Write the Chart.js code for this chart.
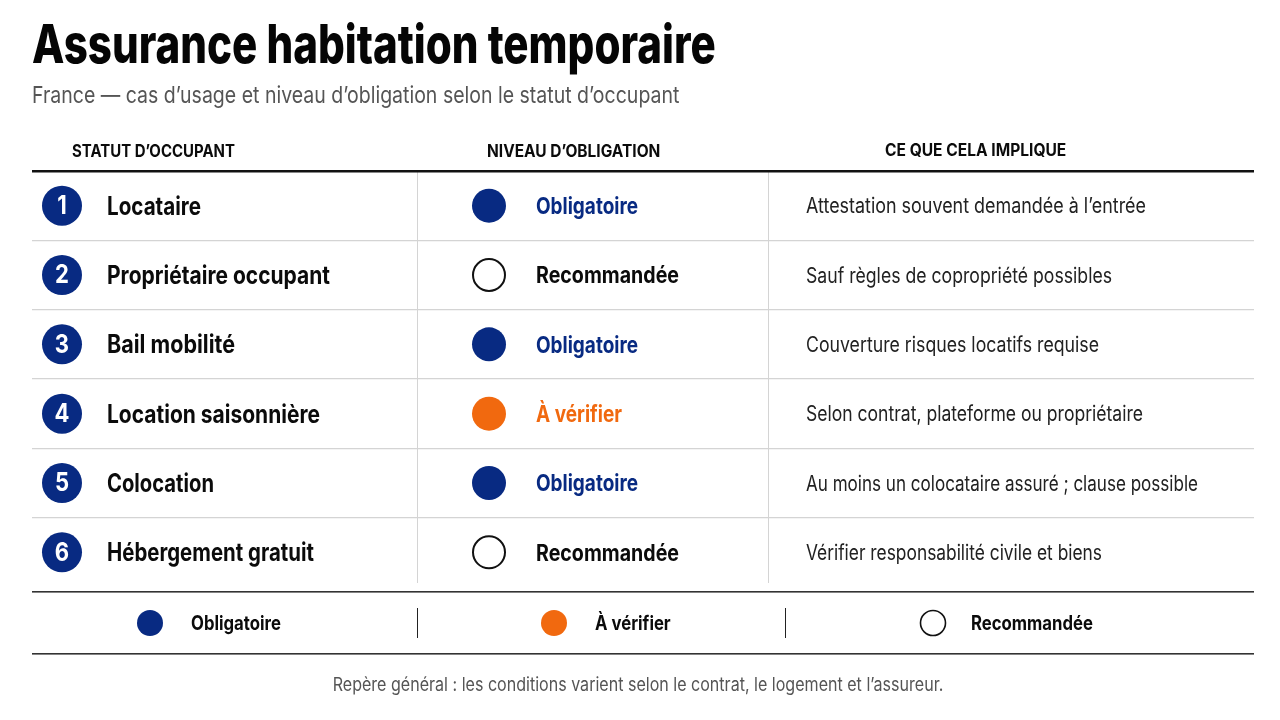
<!DOCTYPE html>
<html lang="fr"><head><meta charset="utf-8">
<style>html,body{margin:0;background:#fff}canvas{display:block}</style>
<script src="https://cdn.jsdelivr.net/npm/chart.js@4"></script></head>
<body><canvas id="c" width="1280" height="720"></canvas>
<script>
const occupants = ["Locataire","Propriétaire occupant","Bail mobilité","Location saisonnière","Colocation","Hébergement gratuit"];
const obligations = ["Obligatoire","Recommandée","Obligatoire","À vérifier","Obligatoire","Recommandée"];
const implications = ["Attestation souvent demandée à l’entrée","Sauf règles de copropriété possibles","Couverture risques locatifs requise","Selon contrat, plateforme ou propriétaire","Au moins un colocataire assuré ; clause possible","Vérifier responsabilité civile et biens"];
const rowNumbers = ["1","2","3","4","5","6"];
const columnHeaders = ["STATUT D’OCCUPANT","NIVEAU D’OBLIGATION","CE QUE CELA IMPLIQUE"];
const legendLevels = ["Obligatoire","À vérifier","Recommandée"];
const titleText = "Assurance habitation temporaire";
const subtitleText = "France — cas d’usage et niveau d’obligation selon le statut d’occupant";
const footerText = "Repère général : les conditions varient selon le contrat, le logement et l’assureur.";

// Layout only: horizontal fit of each text run, to reproduce the reference's condensed lettering.
const NAVY="#082a82", ORANGE="#f1690f", INK="#0b0b0b", FONT='Inter, "Liberation Sans", sans-serif';
const X_BADGE=62, X_LEVEL=489;
const nameFit=[94,223,128,213,107,207], implicationFit=[340,306,293,337,392,296];
const levelStyle={
 "Obligatoire":{bg:NAVY,border:NAVY,bw:0,r:17,text:NAVY,fit:102},
 "À vérifier":{bg:ORANGE,border:ORANGE,bw:0,r:17,text:ORANGE,fit:86},
 "Recommandée":{bg:"#fff",border:"#111",bw:2,r:16,text:INK,fit:143}
};
function T(ctx,s,x,y,font,color,sx,align){
  ctx.font=font;ctx.fillStyle=color;ctx.textAlign=align||"left";ctx.textBaseline="middle";
  ctx.fillText(s,x,y,ctx.measureText(s).width*sx);
}
function F(ctx,s,x,y,font,color,w){
  ctx.font=font;ctx.fillStyle=color;ctx.textAlign="left";ctx.textBaseline="middle";
  ctx.fillText(s,x,y,w);
}
const tablePlugin={id:"table",beforeDatasetsDraw(chart){
  const ctx=chart.ctx;ctx.fillStyle="#d4d4d4";
  ctx.fillRect(417,171,1,412);ctx.fillRect(768,171,1,412);
},afterDatasetsDraw(chart){
  const ctx=chart.ctx,y=chart.scales.y;ctx.save();
  T(ctx,titleText,32,47,`800 54px ${FONT}`,"#050505",0.779);
  T(ctx,subtitleText,32,96,`400 23px ${FONT}`,"#555",0.848);
  T(ctx,columnHeaders[0],72,152,`700 17px ${FONT}`,INK,0.88);
  T(ctx,columnHeaders[1],487,152,`700 17px ${FONT}`,INK,0.91);
  T(ctx,columnHeaders[2],885,151,`700 17px ${FONT}`,INK,0.915);
  ctx.fillStyle="#111";ctx.fillRect(32,170,1222,2.5);
  occupants.forEach((name,i)=>{
    const py=y.getPixelForValue(i);
    T(ctx,rowNumbers[i],X_BADGE,py+0.5,`700 26px ${FONT}`,"#fff",0.85,"center");
    F(ctx,name,107,py+1.5,`700 25px ${FONT}`,INK,nameFit[i]);
    const st=levelStyle[obligations[i]];
    F(ctx,obligations[i],536,py+1.5,`700 23px ${FONT}`,st.text,st.fit);
    F(ctx,implications[i],806,py+1.5,`400 21px ${FONT}`,"#222",implicationFit[i]);
  });
  ctx.fillStyle="#333";ctx.fillRect(32,591,1222,1.6);ctx.fillRect(32,653,1222,1.6);
  ctx.fillStyle="#222";ctx.fillRect(417,608,1,30);ctx.fillRect(785,608,1,30);
  [[150,191],[554,595],[933,971]].forEach(([cx,tx],i)=>{
    const st=levelStyle[legendLevels[i]];
    ctx.beginPath();ctx.arc(cx,623,st.bw?12.5:13,0,Math.PI*2);ctx.fillStyle=st.bg;ctx.fill();
    if(st.bw){ctx.lineWidth=1.6;ctx.strokeStyle=st.border;ctx.stroke();}
    T(ctx,legendLevels[i],tx,624,`700 20px ${FONT}`,INK,0.836);
  });
  T(ctx,footerText,638,685,`400 18.5px ${FONT}`,"#555",0.868,"center");
  ctx.restore();
}};
const levelDataset=lv=>({label:lv,type:"scatter",
  data:obligations.map((o,i)=>o===lv?{x:X_LEVEL,y:occupants[i]}:null).filter(Boolean),
  backgroundColor:levelStyle[lv].bg,borderColor:levelStyle[lv].border,borderWidth:levelStyle[lv].bw,
  pointRadius:levelStyle[lv].r,pointHoverRadius:levelStyle[lv].r,pointStyle:"circle"});
new Chart(document.getElementById("c"),{
  type:"scatter",
  data:{labels:occupants,datasets:[
    {label:"Statut",data:occupants.map(o=>({x:X_BADGE,y:o})),backgroundColor:NAVY,borderWidth:0,pointRadius:20,pointHoverRadius:20},
    ...legendLevels.map(levelDataset)]},
  options:{responsive:false,animation:false,devicePixelRatio:1,
    layout:{padding:{left:32,right:26,top:171,bottom:133}},
    plugins:{legend:{display:false},title:{display:false},tooltip:{enabled:false}},
    events:[],
    scales:{
      x:{type:"linear",display:false,min:32,max:1254},
      y:{type:"category",labels:occupants,offset:true,border:{display:false},ticks:{display:false},
        grid:{offset:true,drawTicks:false,lineWidth:1.3,color:c=>(c.type!=="tick"||c.index===0)?"rgba(0,0,0,0)":"#d4d4d4"}}
    }},
  plugins:[tablePlugin]
});
</script></body></html>
